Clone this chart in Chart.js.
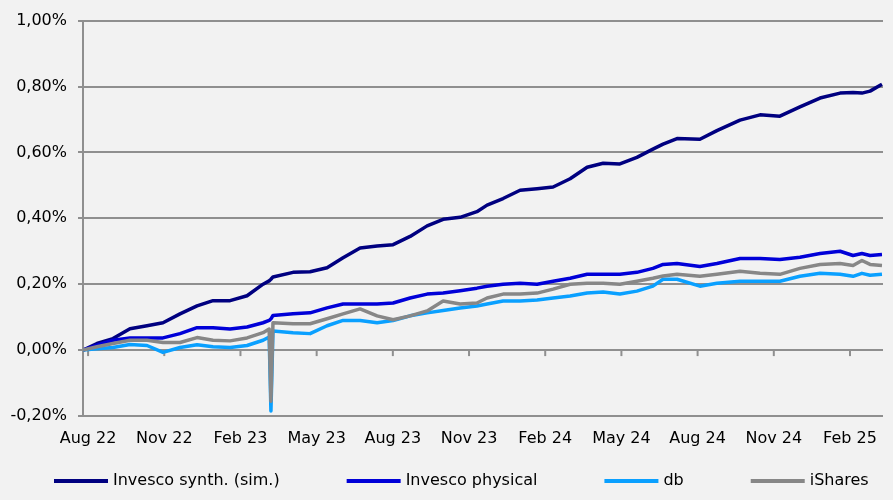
<!DOCTYPE html>
<html>
<head>
<meta charset="utf-8">
<script src="https://cdn.jsdelivr.net/npm/chart.js@4/dist/chart.umd.min.js"></script>
<style>
  body { margin: 0; background: #f2f2f2; }
  canvas { display: block; background: #f2f2f2; }
</style>
</head>
<body>
<canvas id="chart" width="893" height="500"></canvas>
<script>
// months counted from Aug 22 (0 = Aug 22, 3 = Nov 22, ...)
const months = [-0.2, 0.35, 0.98, 1.65, 2.32, 2.95, 3.62, 4.29, 4.92, 5.59,
  6.26, 6.89, 7.13, 7.2, 7.28, 8.07, 8.74, 9.41, 10.04, 10.71,
  11.38, 12.01, 12.68, 13.35, 13.98, 14.65, 15.31, 15.71, 16.34, 17.01,
  17.68, 18.31, 18.98, 19.65, 20.28, 20.94, 21.61, 22.24, 22.64, 23.19,
  24.09, 24.76, 25.67, 26.46, 27.24, 28.03, 28.82, 29.61, 30.12, 30.47,
  30.79, 31.26];

// values in %
const synth = [0.0, 0.02, 0.035, 0.065, 0.074, 0.083, 0.11, 0.134, 0.15, 0.15,
  0.165, 0.2, 0.21, 0.215, 0.222, 0.236, 0.238, 0.25, 0.28, 0.31,
  0.316, 0.32, 0.345, 0.377, 0.397, 0.403, 0.42, 0.44, 0.46, 0.485,
  0.49, 0.495, 0.52, 0.555, 0.567, 0.565, 0.585, 0.61, 0.625, 0.642,
  0.64, 0.666, 0.698, 0.714, 0.71, 0.738, 0.765, 0.78, 0.782, 0.78,
  0.786, 0.807];

const physical = [0.0, 0.015, 0.03, 0.037, 0.037, 0.037, 0.05, 0.068, 0.068, 0.064,
  0.07, 0.083, 0.09, 0.095, 0.105, 0.11, 0.113, 0.128, 0.14, 0.14,
  0.14, 0.143, 0.158, 0.17, 0.173, 0.18, 0.188, 0.194, 0.2, 0.203,
  0.2, 0.209, 0.218, 0.23, 0.23, 0.23, 0.236, 0.248, 0.26, 0.263,
  0.254, 0.263, 0.278, 0.278, 0.275, 0.282, 0.293, 0.3, 0.287, 0.293,
  0.287, 0.29];

const db = [0.0, 0.004, 0.008, 0.017, 0.014, -0.007, 0.008, 0.016, 0.01, 0.008,
  0.014, 0.03, 0.04, -0.185, 0.058, 0.053, 0.05, 0.074, 0.09, 0.09,
  0.083, 0.09, 0.104, 0.113, 0.12, 0.128, 0.134, 0.14, 0.149, 0.149,
  0.152, 0.158, 0.164, 0.173, 0.176, 0.17, 0.179, 0.194, 0.215, 0.215,
  0.194, 0.203, 0.209, 0.209, 0.209, 0.224, 0.233, 0.23, 0.224, 0.233,
  0.227, 0.23];

const ishares = [0.0, 0.01, 0.02, 0.03, 0.03, 0.023, 0.023, 0.038, 0.03, 0.028,
  0.037, 0.053, 0.064, -0.155, 0.083, 0.08, 0.08, 0.095, 0.11, 0.125,
  0.104, 0.092, 0.104, 0.119, 0.149, 0.14, 0.143, 0.158, 0.17, 0.17,
  0.173, 0.185, 0.2, 0.203, 0.203, 0.2, 0.209, 0.218, 0.225, 0.23,
  0.224, 0.23, 0.239, 0.233, 0.23, 0.248, 0.26, 0.263, 0.257, 0.272,
  0.26, 0.257];

const tickMonths = [0, 3, 6, 9, 12, 15, 18, 21, 24, 27, 30];
const tickLabels = ["Aug 22", "Nov 22", "Feb 23", "May 23", "Aug 23", "Nov 23",
  "Feb 24", "May 24", "Aug 24", "Nov 24", "Feb 25"];

const seriesNames = ["Invesco synth. (sim.)", "Invesco physical", "db", "iShares"];
const seriesColors = ["#000080", "#0000d8", "#0aa0ff", "#878787"];
const seriesValues = [synth, physical, db, ishares];
const drawOrder = [3, 2, 1, 0];

const gridColor = "#8f8f8f";
const font = { family: "DejaVu Sans", size: 16 };

function points(values) {
  return values.map((v, i) => ({ x: months[i], y: v }));
}

function pct(v) {
  if (Math.abs(v) < 1e-9) v = 0;
  return v.toFixed(2).replace(".", ",") + "%";
}

// small tick marks on the 0% line, like the category axis in the original
const zeroTicks = {
  id: "zeroTicks",
  beforeDatasetsDraw(chart) {
    const ctx = chart.ctx;
    const x = chart.scales.x;
    const y0 = chart.scales.y.getPixelForValue(0);
    ctx.save();
    ctx.strokeStyle = gridColor;
    ctx.lineWidth = 2;
    x.ticks.forEach(t => {
      const px = x.getPixelForValue(t.value);
      ctx.beginPath();
      ctx.moveTo(px, y0);
      ctx.lineTo(px, y0 + 6);
      ctx.stroke();
    });
    ctx.restore();
  }
};

// legend drawn by hand so the wide gaps between entries match
const lineLegend = {
  id: "lineLegend",
  afterDraw(chart) {
    const ctx = chart.ctx;
    const y = 481;
    let x = 54;
    ctx.save();
    ctx.font = font.size + "px '" + font.family + "'";
    ctx.textBaseline = "middle";
    chart.data.datasets.forEach(ds => {
      ctx.strokeStyle = ds.borderColor;
      ctx.lineWidth = 4;
      ctx.beginPath();
      ctx.moveTo(x, y);
      ctx.lineTo(x + 54, y);
      ctx.stroke();
      ctx.fillStyle = "#000";
      ctx.fillText(ds.label, x + 59, y);
      x += 59 + ctx.measureText(ds.label).width + 67;
    });
    ctx.restore();
  }
};

new Chart(document.getElementById("chart"), {
  type: "line",
  data: {
    datasets: seriesNames.map((name, i) => ({
      label: name,
      data: points(seriesValues[i]),
      borderColor: seriesColors[i],
      backgroundColor: seriesColors[i],
      borderWidth: 3.5,
      borderJoinStyle: "round",
      pointRadius: 0,
      tension: 0,
      order: drawOrder[i]
    }))
  },
  options: {
    responsive: false,
    animation: false,
    layout: { padding: { top: 17, right: 10, bottom: 0, left: 0 } },
    plugins: {
      legend: { display: false },
      tooltip: { enabled: false }
    },
    scales: {
      x: {
        type: "linear",
        min: -0.2,
        max: 31.3,
        afterBuildTicks: scale => {
          scale.ticks = tickMonths.map(v => ({ value: v }));
        },
        afterFit: scale => { scale.height = 84; },
        grid: { display: false, drawTicks: false },
        border: { display: false },
        ticks: {
          autoSkip: false,
          maxRotation: 0,
          padding: 13,
          color: "#000",
          font: font,
          callback: v => tickLabels[tickMonths.indexOf(v)]
        }
      },
      y: {
        min: -0.2,
        max: 1.0,
        afterFit: scale => { scale.width = 83; },
        grid: { color: gridColor, lineWidth: 2, tickLength: 5 },
        border: { display: true, color: gridColor, width: 2 },
        ticks: {
          stepSize: 0.2,
          padding: 11,
          color: "#000",
          font: font,
          callback: v => pct(v)
        }
      }
    }
  },
  plugins: [zeroTicks, lineLegend]
});
</script>
</body>
</html>
